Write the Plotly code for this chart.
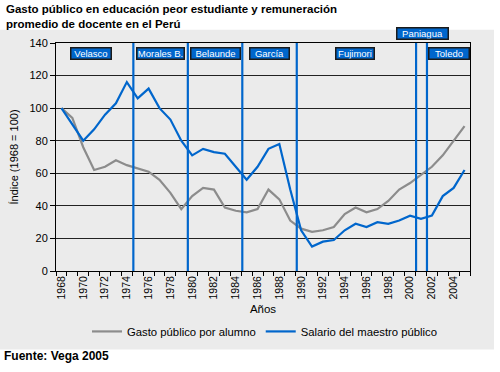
import plotly.graph_objects as go

years = list(range(1968, 2006))
gasto = [100, 94, 76, 62, 64, 68, 65, 63, 61, 56, 48, 38, 46, 51, 50, 39, 37, 36, 38, 50, 44, 31,
         26, 24, 25, 27, 35, 39, 36, 38, 43, 50, 54, 59, 64, 71, 80, 89]
salario = [100, 90, 80, 87, 96, 103, 116, 106, 112, 100, 93, 80, 71, 75, 73, 72, 64, 56, 64, 75, 78, 50,
           25, 15, 18, 19, 25, 29, 27, 30, 29, 31, 34, 32, 34, 46, 51, 62]
series_names = ["Gasto público por alumno", "Salario del maestro público"]

# government periods
gov_names = ["Velasco", "Morales B.", "Belaunde", "García", "Fujimori", "Paniagua", "Toledo"]
transitions = [1974.6, 1979.6, 1984.6, 1989.6, 2000.55, 2001.55]
y_ticks = [0, 20, 40, 60, 80, 100, 120, 140]

# label layout (x centre in years, y as fraction of plot height, box width px)
label_x = [1970.7, 1977.1, 1982.1, 1987.1, 1994.9, 2001.1, 2003.6]
label_y = [0.964, 0.964, 0.964, 0.964, 0.964, 1.052, 0.964]
label_w = [42, 49, 51, 41, 40, 53, 42]

FONT = "Liberation Sans, Arial, sans-serif"
BLUE = "#0066CC"
GRAY = "#8C8C8C"
BG = "#EBEBEB"

fig = go.Figure()
fig.add_trace(go.Scatter(x=years, y=gasto, mode="lines", name=series_names[0],
                         line=dict(color=GRAY, width=2.2)))
fig.add_trace(go.Scatter(x=years, y=salario, mode="lines", name=series_names[1],
                         line=dict(color=BLUE, width=2.2)))

for t in transitions:
    fig.add_shape(type="line", xref="x", yref="y", x0=t, x1=t, y0=0, y1=140,
                  line=dict(color=BLUE, width=2.2))

for name, lx, ly, w in zip(gov_names, label_x, label_y, label_w):
    fig.add_annotation(x=lx, y=ly, xref="x", yref="paper", text=name, showarrow=False,
                       yshift=4,
                       font=dict(family=FONT, size=9.5, color="white"),
                       bgcolor=BLUE, bordercolor="#1a1a1a", borderwidth=1.5, borderpad=0,
                       width=w - 3, height=10)

# grey panel background
fig.add_shape(type="rect", xref="paper", yref="paper",
              x0=-56/414, x1=(494-56)/414, y0=(270.7-349)/227.4, y1=(270.7-30)/227.4,
              fillcolor=BG, line=dict(width=0), layer="below")

fig.add_annotation(x=0, y=1, xref="paper", yref="paper", xanchor="left", yanchor="top",
                   xshift=-56+4, yshift=43-1, align="left", showarrow=False,
                   text="<b>Gasto público en educación peor estudiante y remuneración<br>promedio de docente en el Perú</b>",
                   font=dict(family=FONT, size=11.5, color="black"))
fig.add_annotation(x=0, y=0, xref="paper", yref="paper", xanchor="left", yanchor="middle",
                   xshift=-56+2, yshift=-(356-270.7), showarrow=False,
                   text="<b>Fuente: Vega 2005</b>",
                   font=dict(family=FONT, size=12, color="black"))

fig.update_layout(
    width=500, height=372,
    margin=dict(l=56, r=30, t=43, b=101),
    paper_bgcolor="white", plot_bgcolor=BG,
    font=dict(family=FONT, size=11, color="black"),
    showlegend=True,
    legend=dict(orientation="h", x=(87-56)/414, xanchor="left", y=-0.265, yanchor="middle",
                bgcolor="rgba(0,0,0,0)", font=dict(family=FONT, size=11.3),
                itemwidth=30, tracegroupgap=0),
    xaxis=dict(range=[1967.5, 2005.5], tickmode="array", tickvals=years[::2],
               ticktext=[str(y) for y in years[::2]], tickangle=-90,
               ticks="", showgrid=False, zeroline=False,
               showline=True, linecolor="black", linewidth=1, mirror=True,
               minor=dict(ticks="outside", tick0=1967.5, dtick=1, ticklen=4,
                          tickcolor="black", showgrid=False),
               tickfont=dict(family=FONT, size=10.5),
               title=dict(text="Años", standoff=6, font=dict(family=FONT, size=11.5))),
    yaxis=dict(range=[0, 140], tickvals=y_ticks, ticks="outside", ticklen=5,
               tickcolor="black", showgrid=True, gridcolor="#222222", gridwidth=1,
               zeroline=False, showline=True, linecolor="black", linewidth=1, mirror=True,
               tickfont=dict(family=FONT, size=11),
               title=dict(text="Índice (1968 = 100)", standoff=8,
                          font=dict(family=FONT, size=11))),
)

fig.write_html("out.html", config={"displayModeBar": False},
               post_script="document.body.style.margin='0';")
